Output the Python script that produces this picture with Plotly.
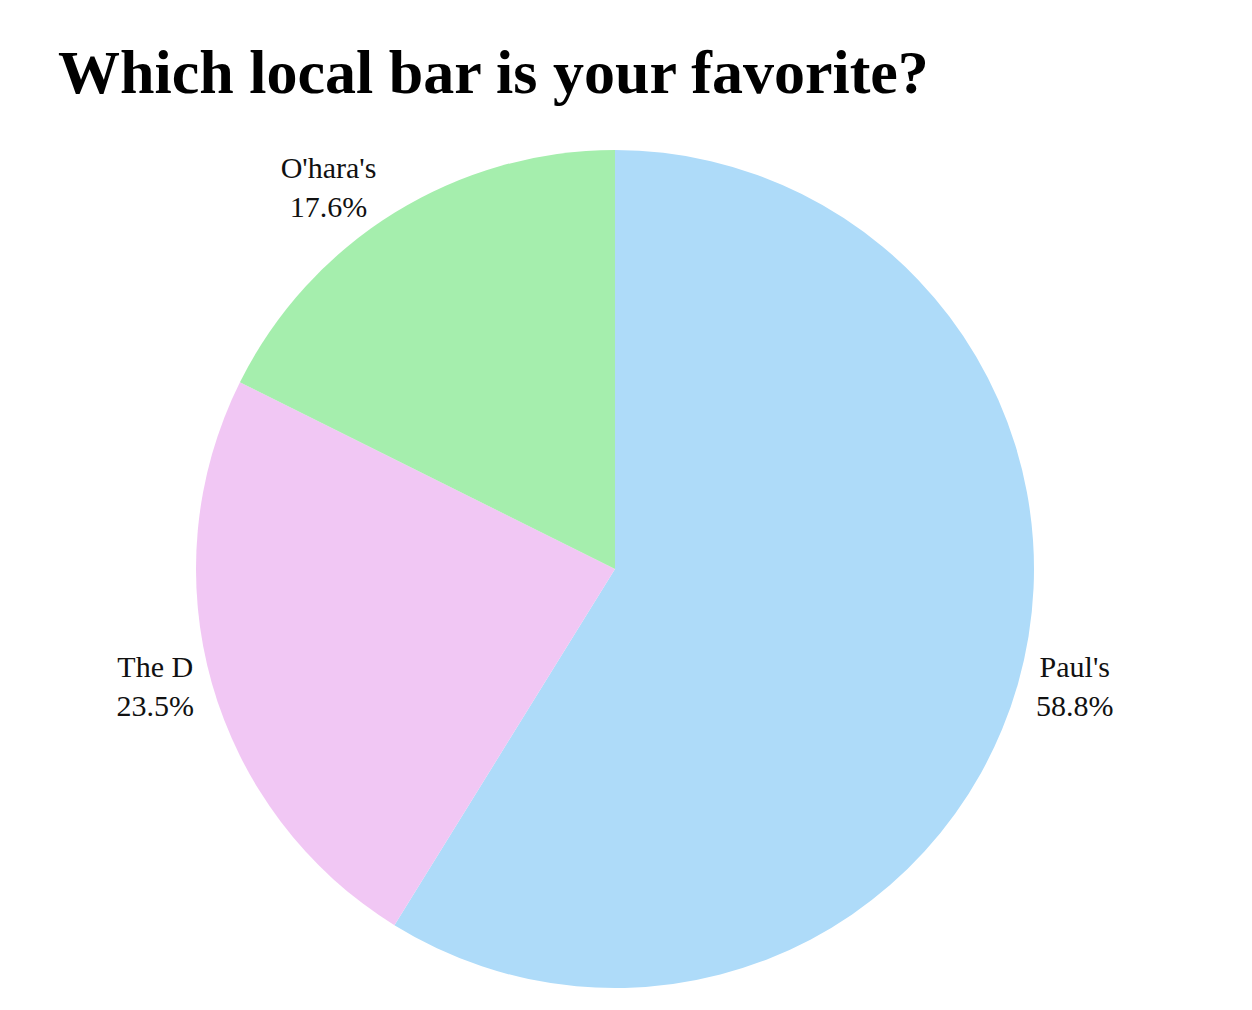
import plotly.graph_objects as go

labels = ["Paul's", "The D", "O'hara's"]
values = [10, 4, 3]
colors = ["#AEDBF9", "#F1C7F4", "#A5EEAD"]

W, H = 1252, 1010
cx, cy, r = 607, 561, 419

fig = go.Figure(go.Pie(
    labels=labels,
    values=values,
    sort=False,
    direction="clockwise",
    rotation=0,
    marker=dict(colors=colors, line=dict(width=0)),
    textinfo="label+percent",
    textposition="outside",
    texttemplate="%{label}<br>%{percent:.1%}",
    outsidetextfont=dict(family="Liberation Serif, serif", size=30, color="#111111"),
    showlegend=False,
    hoverinfo="label+percent",
    domain=dict(x=[(cx - r) / W, (cx + r) / W], y=[1 - (cy + r) / H, 1 - (cy - r) / H]),
))

fig.update_layout(
    width=W, height=H,
    margin=dict(l=0, r=0, t=0, b=0),
    paper_bgcolor="white",
    plot_bgcolor="white",
    title=dict(
        text="<b>Which local bar is your favorite?</b>",
        x=50 / W, xanchor="left",
        y=1 - 63 / H, yanchor="middle",
        font=dict(family="Liberation Serif, serif", size=62, color="#000000"),
    ),
)

fig.write_html("out.html")
